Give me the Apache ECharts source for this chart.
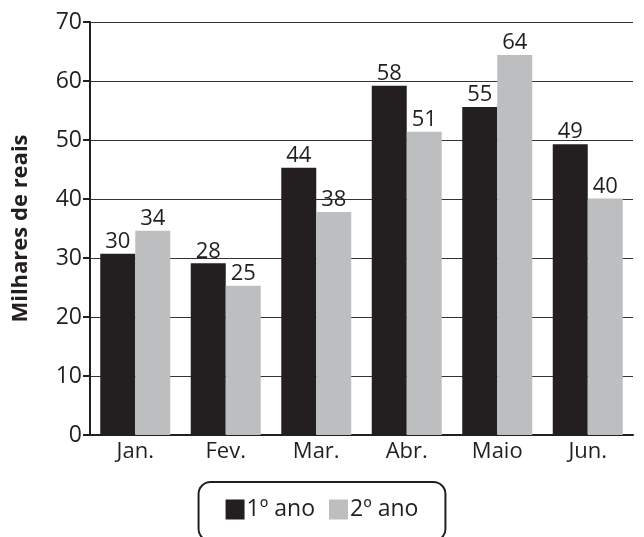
<!DOCTYPE html>
<html>
<head>
<meta charset="utf-8">
<script src="https://cdn.jsdelivr.net/npm/echarts@6/dist/echarts.min.js"></script>
<style>html,body{margin:0;padding:0;background:#fff}#c{width:644px;height:537px}</style>
</head>
<body>
<div id="c"></div>
<script>
const categories = ['Jan.', 'Fev.', 'Mar.', 'Abr.', 'Maio', 'Jun.'];
const seriesNames = ['1º ano', '2º ano'];
const ano1 = [30.7, 29.1, 45.3, 59.2, 55.6, 49.3];
const ano2 = [34.6, 25.3, 37.8, 51.4, 64.4, 40.1];
const labels1 = ['30', '28', '44', '58', '55', '49'];
const labels2 = ['34', '25', '38', '51', '64', '40'];
const yTicks = [0, 10, 20, 30, 40, 50, 60, 70];

const txt = '#231f20';
const font = 'Open Sans';
const chart = echarts.init(document.getElementById('c'));
function lab(arr) {
  return { show: true, position: 'top', distance: 1, color: txt, fontFamily: font, fontSize: 22,
    formatter: p => arr[p.dataIndex] };
}
chart.setOption({
  animation: false,
  textStyle: { fontFamily: font, color: txt },
  grid: { left: 90, right: 11, top: 22, bottom: 102 },
  legend: {
    data: seriesNames,
    left: 'center',
    top: 482,
    itemWidth: 19, itemHeight: 20, itemGap: 14,
    icon: 'rect',
    borderColor: txt, borderWidth: 2, borderRadius: 12,
    padding: [16, 27, 20, 27],
    textStyle: { fontFamily: font, fontSize: 23, color: txt, padding: [0, 0, 0, -3] }
  },
  xAxis: {
    type: 'category',
    data: categories,
    axisLine: { lineStyle: { color: txt, width: 2 } },
    axisTick: { show: false },
    axisLabel: { color: txt, fontFamily: font, fontSize: 22, margin: 6 }
  },
  yAxis: {
    type: 'value',
    min: yTicks[0], max: yTicks[yTicks.length - 1], interval: 10,
    name: 'Milhares de reais',
    nameLocation: 'middle',
    nameGap: 58,
    nameTextStyle: { color: txt, fontFamily: font, fontSize: 22, fontWeight: 'bold' },
    axisLine: { show: true, lineStyle: { color: txt, width: 2 } },
    axisTick: { show: true, length: 7, lineStyle: { color: txt, width: 2 } },
    axisLabel: { color: txt, fontFamily: font, fontSize: 23, margin: 8 },
    splitLine: { lineStyle: { color: '#333', width: 1.2 } }
  },
  series: [
    { name: seriesNames[0], type: 'bar', data: ano1, barWidth: 35, barGap: '0%',
      itemStyle: { color: '#231f20' }, label: lab(labels1) },
    { name: seriesNames[1], type: 'bar', data: ano2, barWidth: 35, barGap: '0%',
      itemStyle: { color: '#bcbec0' }, label: lab(labels2) }
  ]
});
</script>
</body>
</html>
